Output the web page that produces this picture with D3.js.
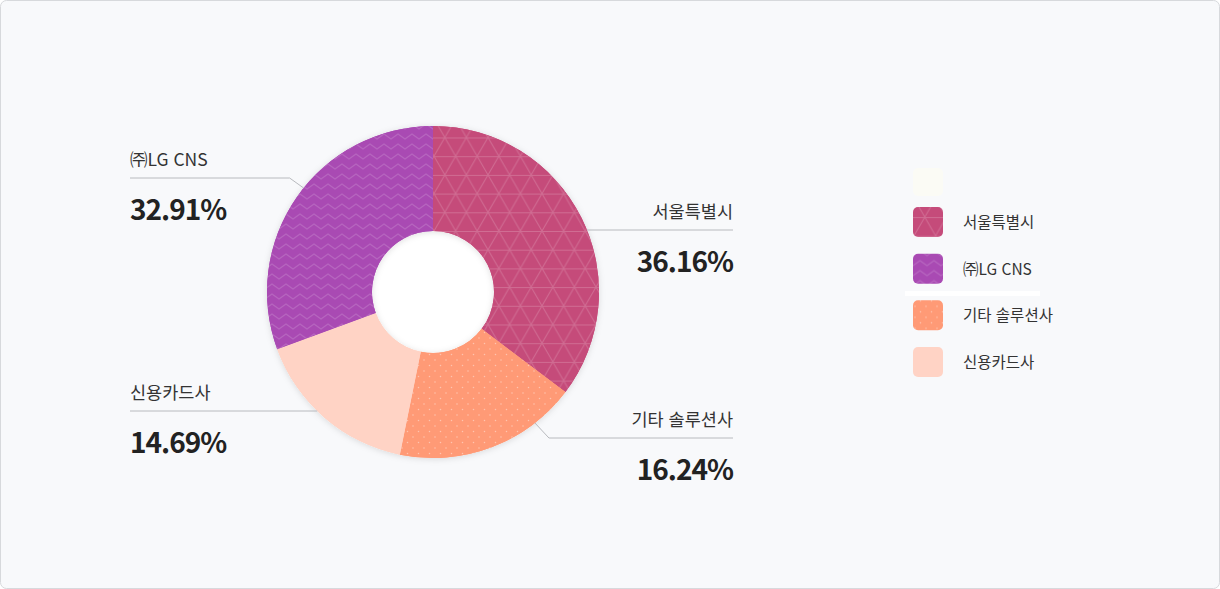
<!DOCTYPE html>
<html lang="ko">
<head>
<meta charset="utf-8">
<script src="https://cdn.jsdelivr.net/npm/d3@7"></script>
<style>
  html, body { margin: 0; padding: 0; background: #ffffff; }
  body { width: 1220px; height: 589px; overflow: hidden; font-family: "Noto Sans CJK KR", "Noto Sans", sans-serif; }
  svg { display: block; }
</style>
</head>
<body>
<div id="chart"></div>
<script>
// Share by organisation (donut, clockwise from 12 o'clock)
const categories = ['서울특별시', '기타 솔루션사', '신용카드사', '㈜LG CNS'];
// slice sizes as drawn in the picture
const shares = [35.3, 17.9, 16.2, 30.6];
// percentages printed next to the slices
const percentLabels = ['36.16%', '16.24%', '14.69%', '32.91%'];
const legendOrder = ['서울특별시', '㈜LG CNS', '기타 솔루션사', '신용카드사'];

// Layout / style
const W = 1220, H = 589;
const cx = 433, cy = 292, outerR = 166, innerR = 61;
const colors = {
  '서울특별시': '#c54b7a',
  '㈜LG CNS': '#a94ab3',
  '기타 솔루션사': '#ff9a76',
  '신용카드사': '#ffd3c5'
};
const patternId = {
  '서울특별시': 'pat-tri',
  '㈜LG CNS': 'pat-zig',
  '기타 솔루션사': 'pat-dot',
  '신용카드사': null
};
// label leader settings: side, y of the leader line, knee offset
const labelLayout = {
  '서울특별시': { side: 'right', lineY: 230, kx: 0, ky: 0 },
  '기타 솔루션사': { side: 'right', lineY: 438, kx: 14, ky: -15 },
  '신용카드사': { side: 'left', lineY: 411, kx: 0, ky: 0 },
  '㈜LG CNS': { side: 'left', lineY: 178, kx: 14, ky: 10 }
};
const leftX = 130, rightX = 733;

const svg = d3.select('#chart').append('svg')
  .attr('width', W)
  .attr('height', H);

const defs = svg.append('defs');

// soft shadow under the donut
const shadow = defs.append('filter')
  .attr('id', 'soft-shadow')
  .attr('x', '-20%').attr('y', '-20%')
  .attr('width', '140%').attr('height', '140%');
shadow.append('feDropShadow')
  .attr('dx', 0).attr('dy', 1)
  .attr('stdDeviation', 3)
  .attr('flood-color', '#000')
  .attr('flood-opacity', 0.13);

// triangle lattice
function addTriangles(id, base) {
  const w = 21.6, h = 18.7;
  const p = defs.append('pattern')
    .attr('id', id).attr('patternUnits', 'userSpaceOnUse')
    .attr('x', cx).attr('y', 126)
    .attr('width', w).attr('height', 2 * h);
  p.append('rect').attr('width', w).attr('height', 2 * h).attr('fill', base);
  p.append('path')
    .attr('d', `M0,0.5H${w}M0,${h + 0.5}H${w}M0,0L${w},${2 * h}M${w},0L0,${2 * h}`)
    .attr('stroke', 'rgba(255,255,255,0.19)')
    .attr('stroke-width', 1)
    .attr('fill', 'none');
}
// zigzag chevrons
function addZigzag(id, base) {
  const w = 14, h = 10;
  const p = defs.append('pattern')
    .attr('id', id).attr('patternUnits', 'userSpaceOnUse')
    .attr('width', w).attr('height', h);
  p.append('rect').attr('width', w).attr('height', h).attr('fill', base);
  p.append('path')
    .attr('d', `M-7,2L0,7L7,2L14,7L21,2`)
    .attr('stroke', 'rgba(255,255,255,0.15)')
    .attr('stroke-width', 1.2)
    .attr('fill', 'none');
}
// dot grid
function addDots(id, base) {
  const s = 11;
  const p = defs.append('pattern')
    .attr('id', id).attr('patternUnits', 'userSpaceOnUse')
    .attr('width', s).attr('height', s);
  p.append('rect').attr('width', s).attr('height', s).attr('fill', base);
  [[2, 2], [7.5, 7.5]].forEach(([x, y]) => {
    p.append('circle').attr('cx', x).attr('cy', y).attr('r', 0.75)
      .attr('fill', 'rgba(255,255,255,0.42)');
  });
}
addTriangles('pat-tri', colors['서울특별시']);
addZigzag('pat-zig', colors['㈜LG CNS']);
addDots('pat-dot', colors['기타 솔루션사']);

function fillFor(name) {
  return patternId[name] ? `url(#${patternId[name]})` : colors[name];
}

// card
svg.append('rect')
  .attr('x', 0.5).attr('y', 0.5)
  .attr('width', W - 1).attr('height', H - 1)
  .attr('rx', 6)
  .attr('fill', '#f8f9fb')
  .attr('stroke', '#d7d9dc');

// donut
const data = categories.map((c, i) => ({ name: c, value: shares[i], label: percentLabels[i] }));
const pie = d3.pie().sort(null).value(d => d.value);
const arc = d3.arc().innerRadius(innerR).outerRadius(outerR);
const arcs = pie(data);

const g = svg.append('g').attr('transform', `translate(${cx},${cy})`);
g.append('circle').attr('r', innerR + 2).attr('fill', '#ffffff');
g.append('g')
  .attr('filter', 'url(#soft-shadow)')
  .selectAll('path')
  .data(arcs)
  .enter().append('path')
  .attr('d', arc)
  .attr('fill', d => colors[d.data.name]);

// pattern overlay
svg.append('g')
  .selectAll('path')
  .data(arcs)
  .enter().append('path')
  .attr('transform', `translate(${cx},${cy})`)
  .attr('d', arc)
  .attr('fill', d => fillFor(d.data.name));

// leader lines and labels
const labels = svg.append('g');
data.forEach(d => {
  const lay = labelLayout[d.name];
  const dir = lay.side === 'right' ? 1 : -1;
  const ey = lay.lineY + lay.ky;
  const ex = cx + dir * Math.sqrt(outerR * outerR - (ey - cy) * (ey - cy));
  const kneeX = ex + dir * lay.kx;
  const endX = lay.side === 'right' ? rightX : leftX;

  labels.append('path')
    .attr('d', `M${ex},${ey}L${kneeX},${lay.lineY}L${endX},${lay.lineY}`)
    .attr('fill', 'none')
    .attr('stroke', '#b8babe')
    .attr('stroke-width', 1);

  const anchor = lay.side === 'right' ? 'end' : 'start';
  labels.append('text')
    .attr('x', endX)
    .attr('y', lay.lineY - 12)
    .attr('text-anchor', anchor)
    .attr('font-size', 17.5)
    .attr('fill', '#333')
    .text(d.name);
  labels.append('text')
    .attr('x', endX)
    .attr('y', lay.lineY + 42)
    .attr('text-anchor', anchor)
    .attr('font-size', 28)
    .attr('font-weight', 700)
    .attr('letter-spacing', -1)
    .attr('fill', '#222')
    .text(d.label);
});

// legend
const legend = svg.append('g').attr('transform', 'translate(913,0)');
// faint empty slot above the list
legend.append('rect')
  .attr('x', 0).attr('y', 168).attr('width', 30).attr('height', 28).attr('rx', 5)
  .attr('fill', '#fbfbf5');
legend.append('rect')
  .attr('x', -8).attr('y', 291).attr('width', 135).attr('height', 5)
  .attr('fill', '#ffffff');

const legendY = d3.scalePoint()
  .domain(legendOrder)
  .range([222, 362]);

const items = legend.selectAll('g.item')
  .data(legendOrder)
  .enter().append('g')
  .attr('class', 'item')
  .attr('transform', d => `translate(0,${legendY(d)})`);
items.append('rect')
  .attr('x', 0).attr('y', -15)
  .attr('width', 30).attr('height', 30)
  .attr('rx', 5)
  .attr('fill', d => fillFor(d));
items.append('text')
  .attr('x', 50)
  .attr('y', 6)
  .attr('font-size', 15.5)
  .attr('fill', '#333')
  .text(d => d);
</script>
</body>
</html>
